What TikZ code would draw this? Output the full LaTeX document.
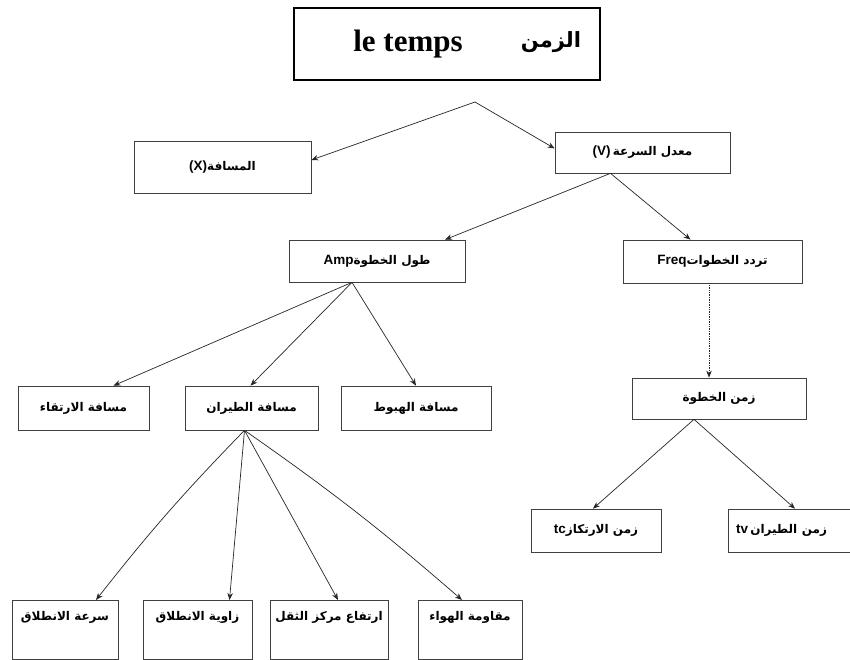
\documentclass[tikz,border=0pt]{standalone}
\usepackage{fontspec}
\setmainfont{Liberation Sans}
\newfontfamily\arfont[Script=Arabic]{DejaVu Sans}
\newfontfamily\serifbold{Liberation Serif}
\TeXXeTstate=1
\usetikzlibrary{arrows.meta,calc}
\newcommand{\AR}[1]{{\arfont\bfseries\fontsize{12}{14}\selectfont\beginR #1\endR}}
\begin{document}
\begin{tikzpicture}[x=1pt,y=-1pt,
  box/.style={draw=black!75, line width=0.7pt, inner sep=0pt,
    font=\bfseries\fontsize{13.5}{15}\selectfont, minimum height=43pt},
  lowbox/.style={draw=black!75, line width=0.7pt, inner xsep=0pt, inner ysep=5pt,
    font=\bfseries\fontsize{13.5}{15}\selectfont, text height=15pt, text depth=34pt},
  arr/.style={draw=black!85, line width=0.7pt, -{Stealth[length=7pt,width=5.5pt]}},
]
\useasboundingbox (0,0) rectangle (850,660);
\fill[white] (0,0) rectangle (850,660);
\clip (0,0) rectangle (850,660);

% top box
\node[draw=black, line width=1.1pt, minimum width=306pt, minimum height=72pt] (top) at (447,44) {};
\node[font=\serifbold\bfseries\fontsize{31}{34}\selectfont, inner sep=0pt] (lt) at (408,44) {le temps};
\node[inner sep=0pt] (zm) at (551,42) {{\arfont\bfseries\fontsize{21}{26}\selectfont\beginR الزمن\endR}};
\coordinate (o1) at (475,102);

% level 1
\node[box, minimum width=177pt, minimum height=52pt] (xb) at (222.5,167) {(X)\AR{المسافة}};
\node[box, minimum width=175pt, minimum height=41pt] (vb) at (642.5,152.5) {(V)\,\AR{معدل السرعة}};

% level 2
\node[box, minimum width=176pt, minimum height=42pt] (amp) at (377,261) {Amp\AR{طول الخطوة}};
\node[box, minimum width=179pt, minimum height=43pt] (freq) at (712.5,261.5) {Freq\AR{تردد الخطوات}};

% level 3
\node[box, minimum width=131pt, minimum height=44pt] (irt) at (83.5,408) {\AR{مسافة الارتقاء}};
\node[box, minimum width=133pt, minimum height=44pt] (tay) at (251.5,408) {\AR{مسافة الطيران}};
\node[box, minimum width=150pt, minimum height=44pt] (hub) at (416,408) {\AR{مسافة الهبوط}};
\node[box, minimum width=174pt, minimum height=41pt] (zk) at (719,398.5) {\AR{زمن الخطوة}};

% level 4 right
\node[box, minimum width=130pt, minimum height=43pt] (tc) at (596,530.5) {tc\AR{زمن الارتكاز}};
\node[box, minimum width=142pt, minimum height=43pt, text width=126pt, align=left] (tv) at (799,530.5) {tv\,\AR{زمن الطيران}};

% bottom row
\node[lowbox, minimum width=106pt, anchor=north] (b1) at (65,600) {\AR{سرعة الانطلاق}};
\node[lowbox, minimum width=109pt, anchor=north] (b2) at (197.5,600) {\AR{زاوية الانطلاق}};
\node[lowbox, minimum width=118pt, anchor=north] (b3) at (329,600) {\AR{ارتفاع مركز الثقل}};
\node[lowbox, minimum width=104pt, anchor=north] (b4) at (470,600) {\AR{مقاومة الهواء}};

% connectors
\draw[arr] (o1) -- ($(xb.east)+(0,-7)$);
\draw[arr] (o1) -- ($(vb.west)+(0,-4)$);

\coordinate (va) at ($(vb.south)+(-32,0)$);
\draw[arr] (va) -- ($(amp.north)+(68,0)$);
\draw[arr] (va) -- ($(freq.north)+(-22,0)$);

\coordinate (aa) at ($(amp.south)+(-25,0)$);
\draw[arr] (aa) -- ($(irt.north)+(30,0)$);
\draw[arr] (aa) -- ($(tay.north)+(-1,0)$);
\draw[arr] (aa) -- (hub.north);

\draw[arr, densely dotted] ($(freq.south)+(-3.5,0)$) -- ($(zk.north)+(-10,0)$);

\coordinate (za) at ($(zk.south)+(-25,0)$);
\draw[arr] (za) -- ($(tc.north)+(-3,0)$);
\draw[arr] (za) -- ($(tv.north)+(-4,0)$);

\coordinate (ta) at ($(tay.south)+(-7,0)$);
\draw[arr] (ta) to[bend right=3] ($(b1.north)+(31,0)$);
\draw[arr] (ta) -- ($(b2.north)+(32,0)$);
\draw[arr] (ta) -- ($(b3.north)+(9,0)$);
\draw[arr] (ta) to[bend left=3] ($(b4.north)+(-8,0)$);
\end{tikzpicture}
\end{document}
